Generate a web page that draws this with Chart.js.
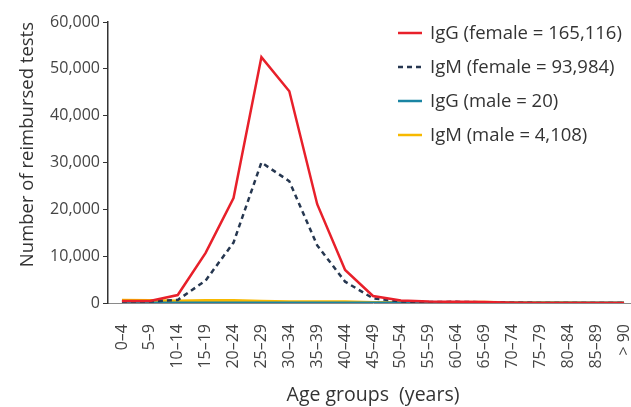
<!DOCTYPE html>
<html>
<head>
<meta charset="utf-8">
<script src="https://cdn.jsdelivr.net/npm/chart.js@4/dist/chart.umd.min.js"></script>
<style>
  html, body { margin: 0; padding: 0; background: #fff; overflow: hidden; }
  /* canvas a bit wider than the window: the plot runs to the right edge like the original */
  #wrap { width: 640px; height: 407px; position: relative; }
</style>
</head>
<body>
<div id="wrap"><canvas id="ageChart"></canvas></div>
<script>
// Age groups on the x axis
const ageGroups = ['0–4', '5–9', '10–14', '15–19', '20–24', '25–29', '30–34', '35–39', '40–44', '45–49',
    '50–54', '55–59', '60–64', '65–69', '70–74', '75–79', '80–84', '85–89', '> 90'];

// Reimbursed tests per age group
const iggFemale = [450, 450, 1700, 10700, 22400, 52500, 45200, 21100, 7050, 1500, 530, 300, 250, 200, 60, 20, 10, 5, 0];
const igmFemale = [300, 300, 650, 4800, 12900, 30000, 26000, 12300, 4550, 1000, 320, 220, 250, 150, 60, 20, 10, 5, 0];
const iggMale   = [0, 1, 2, 3, 2, 3, 2, 2, 1, 1, 1, 0, 1, 1, 0, 0, 0, 0, 0];
const igmMale   = [600, 550, 450, 550, 550, 350, 250, 250, 250, 100, 100, 100, 100, 150, 80, 50, 40, 20, 10];

const seriesLabels = ['IgG (female = 165,116)', 'IgM (female = 93,984)', 'IgG (male = 20)', 'IgM (male = 4,108)'];
const yTicks = [0, 10000, 20000, 30000, 40000, 50000, 60000];

const FONT = '"Open Sans", "DejaVu Sans", sans-serif';
const TEXT = '#333';

// simple vertical legend drawn inside the plot, top right
const sideLegend = {
    id: 'sideLegend',
    afterDraw(chart) {
        const ctx = chart.ctx;
        const x0 = 398, y0 = 33, step = 34;
        ctx.save();
        ctx.font = '18.5px ' + FONT;
        ctx.textBaseline = 'middle';
        chart.data.datasets.forEach((ds, i) => {
            const y = y0 + i * step;
            ctx.strokeStyle = ds.borderColor;
            ctx.lineWidth = 2.5;
            ctx.setLineDash(ds.borderDash || []);
            ctx.beginPath();
            ctx.moveTo(x0, y);
            ctx.lineTo(x0 + 24, y);
            ctx.stroke();
            ctx.setLineDash([]);
            ctx.fillStyle = TEXT;
            ctx.fillText(ds.label, x0 + 32, y + 1);
        });
        ctx.restore();
    }
};

const ctx = document.getElementById('ageChart');
new Chart(ctx, {
    type: 'line',
    data: {
        labels: ageGroups,
        datasets: [
            { label: seriesLabels[0], data: iggFemale, borderColor: '#e8202a', borderWidth: 2.5, tension: 0 },
            { label: seriesLabels[1], data: igmFemale, borderColor: '#263750', borderWidth: 2.5, borderDash: [5, 4], tension: 0 },
            { label: seriesLabels[2], data: iggMale, borderColor: '#1a84a3', borderWidth: 3, tension: 0 },
            { label: seriesLabels[3], data: igmMale, borderColor: '#f7b900', borderWidth: 3, tension: 0 }
        ]
    },
    options: {
        responsive: true,
        maintainAspectRatio: false,
        animation: false,
        layout: { padding: { top: 22, right: 2, left: 0, bottom: 0 } },
        elements: { point: { radius: 0 } },
        plugins: { legend: { display: false }, tooltip: { enabled: false } },
        scales: {
            x: {
                offset: true,
                grid: { display: false },
                border: { color: '#8a8a8a', width: 1 },
                ticks: {
                    autoSkip: false, minRotation: 90, maxRotation: 90, padding: 13,
                    color: '#444', font: { family: FONT, size: 16 }
                },
                title: {
                    display: true, text: 'Age groups  (years)', color: TEXT,
                    font: { family: FONT, size: 19.5 }, padding: { top: 0, bottom: 0 }
                },
                afterFit(scale) {
                    scale.height = 104;
                    scale.paddingLeft = 0;
                    scale.paddingRight = 0;
                }
            },
            y: {
                min: 0, max: 60000,
                afterBuildTicks(scale) { scale.ticks = yTicks.map(v => ({ value: v })); },
                grid: { display: true, drawOnChartArea: false, drawTicks: true, tickLength: 5, color: '#333' },
                border: { color: '#333', width: 1.5 },
                ticks: {
                    padding: 3, color: '#444', font: { family: FONT, size: 16 },
                    callback: v => v.toLocaleString('en-US')
                },
                title: {
                    display: true, text: 'Number of reimbursed tests', color: TEXT, align: 'end',
                    font: { family: FONT, size: 18.5 }, padding: { top: 17, bottom: 0 }
                },
                afterFit(scale) { scale.width = 108; }
            }
        }
    },
    plugins: [sideLegend]
});
</script>
</body>
</html>
